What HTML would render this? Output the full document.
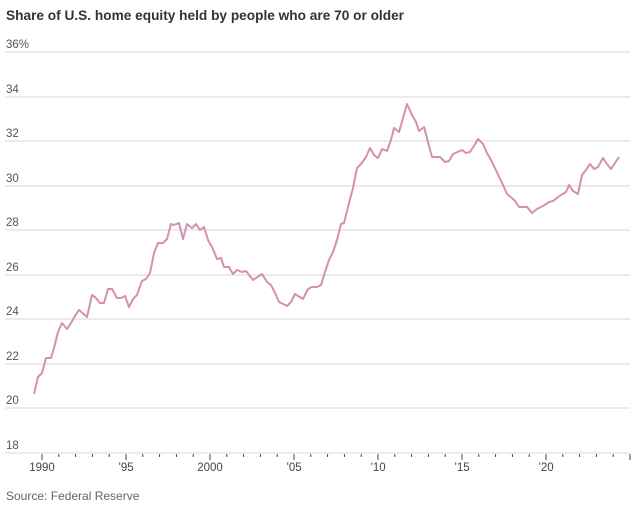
<!DOCTYPE html>
<html><head><meta charset="utf-8"><style>
body{margin:0;background:#fff;width:632px;height:507px;overflow:hidden;font-family:"Liberation Sans",sans-serif}
</style></head><body>
<svg width="632" height="507" xmlns="http://www.w3.org/2000/svg" font-family="Liberation Sans, sans-serif">
<text x="6" y="20" font-size="14" font-weight="bold" fill="#333" textLength="398" lengthAdjust="spacingAndGlyphs">Share of U.S. home equity held by people who are 70 or older</text>
<g stroke="#ebebeb" stroke-width="2">
<line x1="5" x2="630" y1="52" y2="52"/><line x1="5" x2="630" y1="97" y2="97"/><line x1="5" x2="630" y1="141" y2="141"/><line x1="5" x2="630" y1="186" y2="186"/><line x1="5" x2="630" y1="230" y2="230"/><line x1="5" x2="630" y1="275" y2="275"/><line x1="5" x2="630" y1="319" y2="319"/><line x1="5" x2="630" y1="364" y2="364"/><line x1="5" x2="630" y1="408" y2="408"/><line x1="5" x2="630" y1="453" y2="453"/>
</g>
<g font-size="11.5" fill="#555">
<text x="6" y="48">36%</text><text x="6" y="93">34</text><text x="6" y="137">32</text><text x="6" y="182">30</text><text x="6" y="226">28</text><text x="6" y="271">26</text><text x="6" y="315">24</text><text x="6" y="360">22</text><text x="6" y="404">20</text><text x="6" y="449">18</text>
</g>
<g stroke="#444" stroke-width="1" id="ticks"></g>
<g font-size="11.5" fill="#444" text-anchor="middle">
<text x="42" y="471">1990</text><text x="126" y="471">’95</text><text x="210" y="471">2000</text><text x="294" y="471">’05</text><text x="378" y="471">’10</text><text x="462" y="471">’15</text><text x="546" y="471">’20</text>
</g>
<text x="6" y="500" font-size="12" fill="#666">Source: Federal Reserve</text>
<polyline fill="none" stroke="#d68fb0" stroke-width="2" stroke-linejoin="round" points="34,394 38,377 42,373 46,358 51,358 54,348 58,332 62,323 67,329 71,323 75,316 79,310 87,317 92,295 95,297 100,303 104,303 108,289 112,289 117,298 121,298 125,296 129,307 133,299 137,295 142,281 146,279 150,273 154,253 158,243 163,243 167,239 171,224 174,225 179,223 183,239 187,224 192,228 196,224 200,230 204,227 208,240 212,247 217,259 221,258 224,267 229,267 233,274 237,270 242,272 246,271 253,280 262,274 267,282 271,285 275,293 279,302 287,306 291,302 295,294 303,299 308,289 312,287 317,287 321,285 325,272 329,260 333,252 337,240 341,224 344,223 349,203 353,188 357,168 361,164 366,157 370,148 374,155 378,158 382,149 387,151 391,140 394,128 399,132 407,104 412,115 416,122 419,131 424,127 432,157 440,157 445,162 449,161 453,154 462,150 466,153 470,152 474,146 478,139 483,144 487,153 491,160 503,185 507,194 512,198 515,201 519,207 527,207 532,213 537,209 543,206 549,202 553,201 557,198 561,195 566,192 569,185 573,191 578,194 582,175 586,170 590,164 594,169 598,167 603,158 607,164 611,169 619,157"/>
<script>
var g=document.getElementById('ticks');
for(var i=0;i<36;i++){var x=42+i*16.8;var l=document.createElementNS('http://www.w3.org/2000/svg','line');l.setAttribute('x1',x);l.setAttribute('x2',x);l.setAttribute('y1',454);l.setAttribute('y2',i%5==0?460:457);g.appendChild(l);}
</script>
</svg>
</body></html>
